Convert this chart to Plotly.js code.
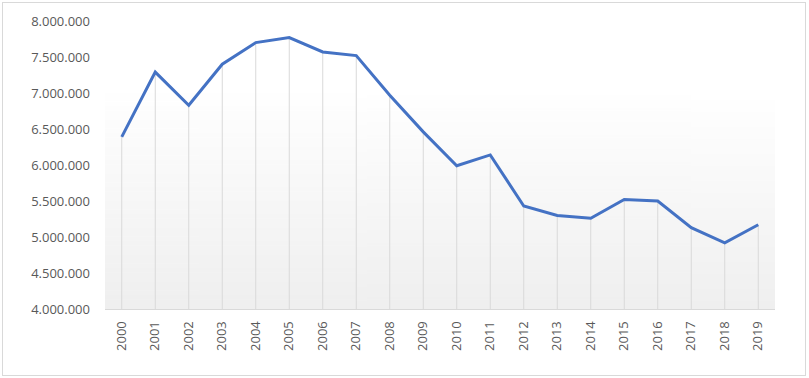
<!DOCTYPE html>
<html>
<head>
<meta charset="utf-8">
<script src="https://cdn.plot.ly/plotly-3.0.1.min.js"></script>
<style>
html,body{margin:0;padding:0;background:#fff;}
#wrap{position:relative;width:809px;height:378px;}
#chart{position:absolute;left:0;top:0;width:809px;height:378px;}
#frame{position:absolute;left:2px;top:2px;width:802px;height:372px;border:1px solid #d9d9d9;pointer-events:none;}
</style>
</head>
<body>
<div id="wrap"><div id="chart"></div><div id="frame"></div></div>
<script>
const years = ['2000','2001','2002','2003','2004','2005','2006','2007','2008','2009',
               '2010','2011','2012','2013','2014','2015','2016','2017','2018','2019'];
const values = [6390000, 7290000, 6830000, 7400000, 7700000, 7770000, 7570000, 7520000, 6970000, 6460000,
                5990000, 6140000, 5430000, 5300000, 5260000, 5520000, 5500000, 5130000, 4920000, 5170000];
const yMin = 4000000;
const yMax = 8000000;
const yTicks = [4000000, 4500000, 5000000, 5500000, 6000000, 6500000, 7000000, 7500000, 8000000];
const yTickText = yTicks.map(v => v.toLocaleString('de-DE'));

// vertical gradient for plot background
const cv = document.createElement('canvas');
cv.width = 4; cv.height = 256;
const ctx = cv.getContext('2d');
const g = ctx.createLinearGradient(0, 0, 0, 256);
g.addColorStop(0, '#ffffff');
g.addColorStop(0.25, '#ffffff');
g.addColorStop(1, '#efefef');
ctx.fillStyle = g; ctx.fillRect(0, 0, 4, 256);
const bgURL = cv.toDataURL('image/png');

const drop = {
  x: years, y: values, type: 'scatter', mode: 'markers',
  marker: {size: 1, opacity: 0},
  error_y: {type: 'data', symmetric: false, array: values.map(() => 0),
            arrayminus: values.map(v => v - yMin), width: 0, thickness: 1, color: '#d9d9d9'},
  hoverinfo: 'skip', showlegend: false
};
const line = {
  x: years, y: values, type: 'scatter', mode: 'lines',
  line: {color: '#4472C4', width: 3}, showlegend: false
};

const layout = {
  width: 809, height: 378,
  margin: {l: 105, r: 34, t: 21, b: 69},
  paper_bgcolor: 'rgba(0,0,0,0)',
  plot_bgcolor: 'rgba(0,0,0,0)',
  font: {family: 'Open Sans, Noto Sans, sans-serif', size: 13, color: '#595959'},
  showlegend: false,
  images: [{source: bgURL, xref: 'paper', yref: 'paper', x: 0, y: 1, sizex: 1, sizey: 1,
            sizing: 'stretch', layer: 'below', xanchor: 'left', yanchor: 'top'}],
  xaxis: {
    type: 'category', range: [-0.5, 19.5], tickangle: -90,
    showgrid: false, zeroline: false, showline: true, linecolor: '#d9d9d9', linewidth: 1,
    ticks: '', ticklabelstandoff: 6,
    tickfont: {size: 13, color: '#595959'}
  },
  yaxis: {
    range: [yMin, yMax], tickvals: yTicks, ticktext: yTickText,
    showgrid: false, zeroline: false, showline: false, ticks: '',
    ticklabelstandoff: 14,
    tickfont: {size: 13, color: '#595959'}
  }
};
Plotly.newPlot('chart', [drop, line], layout, {displayModeBar: false, staticPlot: true});
</script>
</body>
</html>
